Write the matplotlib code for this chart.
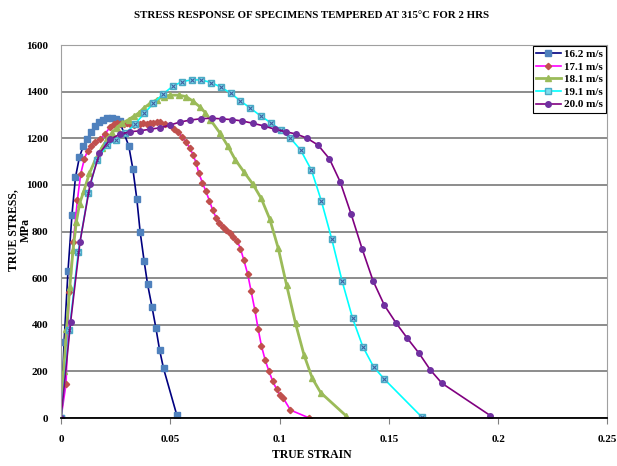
import matplotlib.pyplot as plt

# ---------------- data ----------------
strain_162 = [0, 0.0014, 0.0032, 0.005, 0.0066, 0.0084, 0.0102, 0.012, 0.0136,
              0.0155, 0.0174, 0.0193, 0.0212, 0.0231, 0.025, 0.0268, 0.031,
              0.0329, 0.0347, 0.0362, 0.038, 0.0396, 0.0416, 0.0434, 0.0451,
              0.0469, 0.0529]
stress_162 = [0, 327, 632, 871, 1032, 1118, 1167, 1197, 1226, 1251, 1268, 1279,
              1286, 1287, 1282, 1272, 1167, 1067, 938, 799, 675, 574, 478, 387,
              292, 213, 15]

strain_171 = [0, 0.0023, 0.0037, 0.0056, 0.0075, 0.009, 0.0107, 0.0122, 0.0136,
              0.0156, 0.0178, 0.0202, 0.0225, 0.0242, 0.0257, 0.0272, 0.0287,
              0.0302, 0.0317, 0.0332, 0.0347, 0.0362, 0.0377, 0.0392, 0.0407,
              0.0422, 0.0439, 0.0454, 0.0475, 0.05, 0.0518, 0.0536, 0.0555,
              0.0572, 0.0588, 0.0604, 0.0618, 0.063, 0.0647, 0.0662, 0.0679,
              0.0694, 0.071, 0.0725, 0.074, 0.0755, 0.0771, 0.0786, 0.0806,
              0.0821, 0.0836, 0.0854, 0.087, 0.0887, 0.0902, 0.0917, 0.0934,
              0.0951, 0.0968, 0.0986, 0.1001, 0.1017, 0.105, 0.1136]
stress_171 = [0, 147, 539, 754, 935, 1047, 1112, 1147, 1168, 1183, 1195, 1220,
              1248, 1262, 1265, 1262, 1260, 1264, 1260, 1258, 1263, 1260, 1265,
              1262, 1266, 1264, 1270, 1268, 1263, 1255, 1240, 1225, 1205, 1185,
              1160, 1130, 1095, 1052, 1009, 975, 932, 892, 859, 838, 821, 807,
              792, 778, 759, 727, 679, 618, 543, 463, 382, 310, 249, 202, 160,
              124, 99, 85, 34, 0]

strain_181 = [0, 0.0012, 0.0025, 0.004, 0.0055, 0.007, 0.0085, 0.0105, 0.013,
              0.0158, 0.0187, 0.021, 0.0232, 0.0255, 0.0278, 0.0309, 0.0332,
              0.0355, 0.0378, 0.0408, 0.0439, 0.0469, 0.05, 0.0538, 0.0572,
              0.0604, 0.0635, 0.066, 0.0683, 0.0726, 0.0763, 0.0798, 0.0836,
              0.0878, 0.0916, 0.0955, 0.0994, 0.1032, 0.1073, 0.1112, 0.115,
              0.1188, 0.1306]
stress_181 = [0, 200, 380, 560, 720, 840, 920, 975, 1050, 1110, 1160, 1195, 1222,
              1246, 1264, 1280, 1294, 1308, 1329, 1350, 1366, 1379, 1385, 1385,
              1379, 1359, 1335, 1310, 1280, 1224, 1167, 1107, 1057, 1003, 942,
              854, 728, 571, 406, 270, 170, 109, 8]

strain_191 = [0, 0.0038, 0.0079, 0.0125, 0.0164, 0.021, 0.0252, 0.0295, 0.0339,
              0.0381, 0.0423, 0.0466, 0.0512, 0.0555, 0.06, 0.0642, 0.0688,
              0.0734, 0.0777, 0.0821, 0.0867, 0.0913, 0.0959, 0.1005, 0.105,
              0.1096, 0.1146, 0.1191, 0.1239, 0.1286, 0.1334, 0.1381, 0.143,
              0.1479, 0.165]
stress_191 = [0, 377, 714, 964, 1107, 1170, 1193, 1221, 1261, 1307, 1350, 1389,
              1424, 1443, 1451, 1450, 1439, 1418, 1393, 1360, 1329, 1296, 1267,
              1236, 1200, 1150, 1063, 932, 767, 588, 428, 306, 220, 167, 5]

strain_200 = [0, 0.0044, 0.0087, 0.0133, 0.0176, 0.0225, 0.0271, 0.0317, 0.0362,
              0.0408, 0.0454, 0.05, 0.0546, 0.0592, 0.0641, 0.069, 0.0737,
              0.0783, 0.083, 0.0879, 0.0928, 0.0977, 0.1028, 0.1077, 0.1124,
              0.1176, 0.1228, 0.1277, 0.1327, 0.1378, 0.1428, 0.148, 0.1532,
              0.1583, 0.1638, 0.169, 0.1743, 0.1965]
stress_200 = [0, 413, 756, 1002, 1135, 1196, 1218, 1228, 1232, 1239, 1245, 1257,
              1270, 1278, 1284, 1286, 1283, 1280, 1274, 1264, 1253, 1239, 1228,
              1218, 1201, 1171, 1112, 1014, 876, 725, 588, 483, 409, 344, 278,
              206, 149, 10]

labels = ["16.2 m/s", "17.1 m/s", "18.1 m/s", "19.1 m/s", "20.0 m/s"]
x_ticks = [0, 0.05, 0.1, 0.15, 0.2, 0.25]
x_tick_labels = ["0", "0.05", "0.1", "0.15", "0.2", "0.25"]
y_ticks = [0, 200, 400, 600, 800, 1000, 1200, 1400, 1600]

# ---------------- figure ----------------
plt.rcParams["font.family"] = ["Liberation Serif", "DejaVu Serif"]
plt.rcParams["font.weight"] = "bold"

fig = plt.figure(figsize=(6.17, 4.66), dpi=100)
ax = fig.add_axes([0.0989, 0.103, 0.8855, 0.8004])

ax.plot(strain_162, stress_162, color="#000080", lw=1.2, marker="s", ms=3.8,
        mfc="#4F81BD", mec="#4F81BD", label=labels[0])
ax.plot(strain_171, stress_171, color="#FF00FF", lw=1.2, marker="D", ms=3.2,
        mfc="#C0504D", mec="#C0504D", label=labels[1])
ax.plot(strain_181, stress_181, color="#9BBB59", lw=2.0, marker="^", ms=4.4,
        mfc="#9BBB59", mec="#9BBB59", label=labels[2])
ax.plot(strain_191, stress_191, color="#00FFFF", lw=1.2, marker="s", ms=3.8,
        mfc="#7FDDEE", mec="#4BACC6", label=labels[3])
ax.plot(strain_191, stress_191, ls="none", marker="x", ms=3.0, mew=0.8,
        color="#4060A0")
ax.plot(strain_200, stress_200, color="#800080", lw=1.2, marker="o", ms=4.0,
        mfc="#7030A0", mec="#7030A0", label=labels[4])

ax.set_xlim(0, 0.25)
ax.set_ylim(0, 1600)
ax.set_xticks(x_ticks)
ax.set_xticklabels(x_tick_labels)
ax.set_yticks(y_ticks)
ax.tick_params(axis="both", labelsize=8)
ax.tick_params(axis="x", length=4, direction="out", color="#808080", pad=8)
ax.tick_params(axis="y", length=0, pad=9)

ax.grid(True, axis="y", color="#6e6e6e", lw=1.1)
ax.set_axisbelow(True)
for side in ["top", "right", "left"]:
    ax.spines[side].set_color("#a0a0a0")
ax.spines["bottom"].set_color("black")
ax.spines["bottom"].set_linewidth(1.3)

fig.text(0.505, 0.024, "TRUE STRAIN", ha="center", va="center",
         fontsize=8.5, fontweight="bold")
fig.text(0.032, 0.506, "TRUE STRESS,\nMPa", ha="center", va="center",
         rotation=90, fontsize=8.5, fontweight="bold", multialignment="center",
         linespacing=1.05)

fig.text(0.505, 0.967, "STRESS RESPONSE OF SPECIMENS TEMPERED AT 315\u00b0C FOR 2 HRS",
         ha="center", va="center", fontsize=7.8, fontweight="bold")

handles, lbls = ax.get_legend_handles_labels()
leg = ax.legend(handles, lbls, loc="upper right", fontsize=8,
                fancybox=False, framealpha=1, edgecolor="black",
                borderpad=0.3, labelspacing=0.25, handlelength=2.2,
                handletextpad=0.3, borderaxespad=0.1)
leg.get_frame().set_linewidth(0.8)

fig.savefig("out.png", dpi=100)
